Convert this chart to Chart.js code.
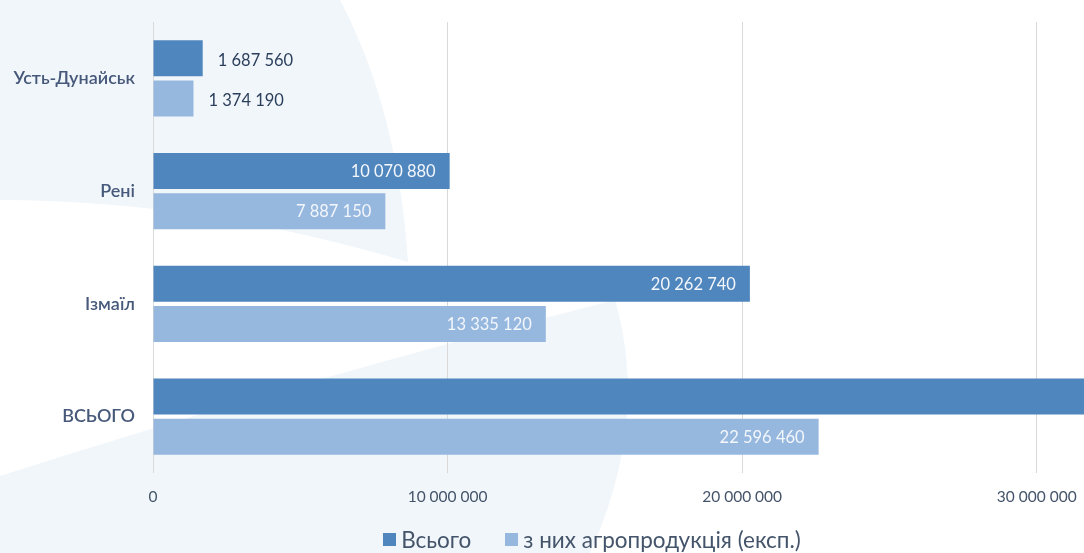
<!DOCTYPE html>
<html lang="uk">
<head>
<meta charset="utf-8">
<title>Порти Дунаю</title>
<script src="https://cdn.jsdelivr.net/npm/chart.js@4.4.1/dist/chart.umd.min.js"></script>
<style>
  html, body { margin: 0; padding: 0; background: #ffffff; overflow: hidden; }
  #wrap { position: absolute; left: 0; top: 0; width: 1200px; height: 553px; }
  #legenda {
    position: absolute; left: 0; top: 526px; width: 1184px;
    display: flex; justify-content: center; gap: 34px;
    font-family: Lato, "Open Sans", sans-serif; font-size: 22.5px; color: #44546a;
  }
  #legenda span { display: flex; align-items: center; }
  #legenda i { display: inline-block; width: 13px; height: 13px; margin-right: 5px; }
</style>
</head>
<body>
<div id="wrap">
  <canvas id="grafico" width="1200" height="553"></canvas>
  <div id="legenda"></div>
</div>
<script>
// порти та обсяги (тонн)
const categories = ["Усть-Дунайськ", "Рені", "Ізмаїл", "ВСЬОГО"];
const totalValues = [1687560, 10070880, 20262740, 32021180];
const agroValues = [1374190, 7887150, 13335120, 22596460];
const xTicks = [0, 10000000, 20000000, 30000000];
const seriesNames = ["Всього", "з них агропродукція (експ.)"];
const seriesColors = ["#4f86be", "#96b8df"];

const fontFamily = "Lato, 'Open Sans', sans-serif";

function formatNum(n) {
  return String(Math.round(n)).replace(/\B(?=(\d{3})+(?!\d))/g, " ");
}

// світлі фігури на фоні
const fonPlugin = {
  id: "fon",
  beforeDraw(chart) {
    const ctx = chart.ctx;
    ctx.save();
    ctx.fillStyle = "#f1f6fa";
    ctx.beginPath();
    ctx.moveTo(0, 0);
    ctx.lineTo(340, 0);
    ctx.quadraticCurveTo(398, 110, 408, 262);
    ctx.quadraticCurveTo(200, 200, 0, 200);
    ctx.closePath();
    ctx.fill();
    ctx.beginPath();
    ctx.moveTo(0, 476);
    ctx.quadraticCurveTo(300, 380, 615, 300);
    ctx.quadraticCurveTo(650, 420, 590, 553);
    ctx.lineTo(0, 553);
    ctx.closePath();
    ctx.fill();
    ctx.restore();
  }
};

// підписи значень на стовпчиках
const labelsPlugin = {
  id: "valorLabels",
  afterDatasetsDraw(chart) {
    const ctx = chart.ctx;
    ctx.save();
    ctx.font = "16.5px " + fontFamily;
    ctx.textBaseline = "middle";
    chart.data.datasets.forEach((ds, i) => {
      chart.getDatasetMeta(i).data.forEach((bar, j) => {
        const v = ds.data[j];
        const len = bar.x - bar.base;
        const txt = formatNum(v);
        if (len < 80 || v > xTicks[xTicks.length - 1]) {
          ctx.fillStyle = "#2b3f5c";
          ctx.textAlign = "left";
          ctx.fillText(txt, bar.x + 15, bar.y + 2);
        } else {
          ctx.fillStyle = "#f3f6fb";
          ctx.textAlign = "right";
          ctx.fillText(txt, bar.x - 14, bar.y + 1);
        }
      });
    });
    ctx.restore();
  }
};

const ctx = document.getElementById("grafico").getContext("2d");
const grafico = new Chart(ctx, {
  type: "bar",
  data: {
    labels: categories,
    datasets: seriesNames.map((nome, i) => ({
      label: nome,
      data: i === 0 ? totalValues : agroValues,
      backgroundColor: seriesColors[i],
      categoryPercentage: 0.71,
      barPercentage: 0.9
    }))
  },
  options: {
    indexAxis: "y",
    responsive: false,
    animation: false,
    layout: { padding: { top: 22, right: 16, left: 0, bottom: 46 } },
    plugins: {
      legend: { display: false },
      tooltip: { enabled: false }
    },
    scales: {
      x: {
        min: 0,
        max: 35000000,
        afterBuildTicks(scale) {
          scale.ticks = xTicks.map(v => ({ value: v }));
        },
        afterFit(scale) { scale.height = 34; },
        grid: { color: "#d9d9d9", lineWidth: 1, drawTicks: false },
        border: { display: false },
        ticks: {
          padding: 15,
          color: "#44546a",
          font: { family: fontFamily, size: 15.5 },
          callback: v => formatNum(v)
        }
      },
      y: {
        afterFit(scale) { scale.width = 153; },
        grid: { display: false },
        border: { display: false },
        ticks: {
          padding: 10,
          color: "#47597a",
          font: { family: fontFamily, size: 18, weight: "600" }
        }
      }
    }
  },
  plugins: [fonPlugin, labelsPlugin]
});

// легенда під графіком
const legenda = document.getElementById("legenda");
grafico.data.datasets.forEach(ds => {
  const item = document.createElement("span");
  item.innerHTML = `<i style="background:${ds.backgroundColor}"></i>${ds.label}`;
  legenda.appendChild(item);
});
</script>
</body>
</html>
